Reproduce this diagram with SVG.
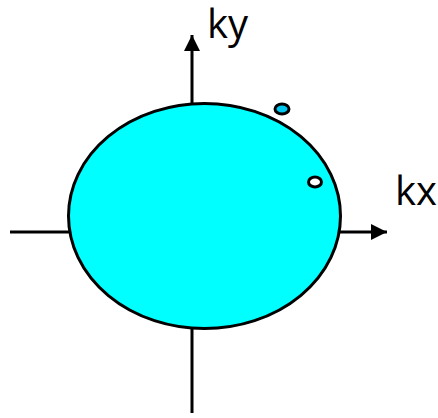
<svg xmlns="http://www.w3.org/2000/svg" width="438" height="418" viewBox="0 0 438 418">
<style>
.ax{stroke:#000;stroke-width:3;fill:none}
.lbl{font-family:"Open Sans","Liberation Sans",sans-serif;font-size:40px;fill:#000}
.dot{stroke:#000;stroke-width:3}
</style>
<defs>
<marker id="ah" viewBox="0 0 16 16" refX="16" refY="8" markerWidth="16" markerHeight="16" markerUnits="userSpaceOnUse" orient="auto">
<path d="M0,0 L16,8 L0,16 Z" fill="#000"/>
</marker>
</defs>
<g id="connectors">
<line class="ax" x1="10" y1="232" x2="387" y2="232" marker-end="url(#ah)"/>
<line class="ax" x1="192" y1="413" x2="192" y2="35" marker-end="url(#ah)"/>
</g>
<g id="ellipse">
<ellipse cx="204.5" cy="216" rx="136" ry="112.5" fill="#00ffff" stroke="#000" stroke-width="3"/>
</g>
<g id="dot1"><ellipse class="dot" cx="282" cy="109" rx="7" ry="5" fill="#00c8f0"/></g>
<g id="dot2"><ellipse class="dot" cx="315" cy="182" rx="6.5" ry="5" fill="#fff"/></g>
<g id="ky"><text class="lbl" x="207" y="38">ky</text></g>
<g id="kx"><text class="lbl" x="395" y="205">kx</text></g>
</svg>
